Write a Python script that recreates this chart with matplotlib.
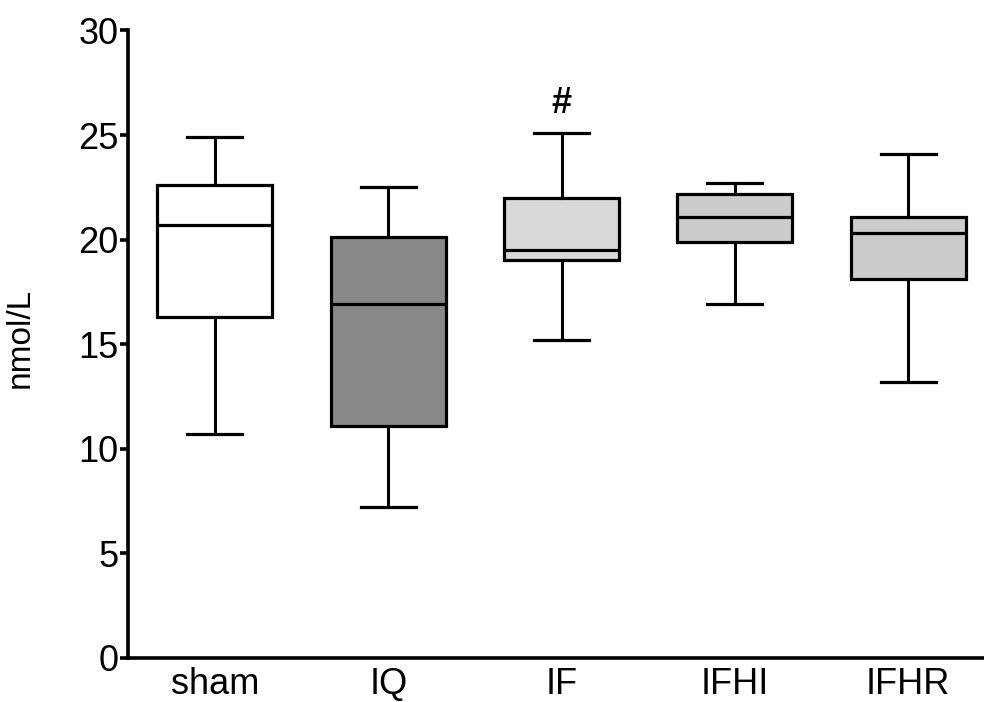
import matplotlib
matplotlib.use("Agg")
import matplotlib.pyplot as plt

plt.rcParams["font.family"] = ["Liberation Sans", "DejaVu Sans"]

# group summary values (nmol/L)
groups = ["sham", "IQ", "IF", "IFHI", "IFHR"]
whisker_low = [10.7, 7.2, 15.2, 16.9, 13.2]
q1 = [16.3, 11.1, 19.0, 19.9, 18.1]
median = [20.7, 16.9, 19.5, 21.1, 20.3]
q3 = [22.6, 20.1, 22.0, 22.2, 21.1]
whisker_high = [24.9, 22.5, 25.1, 22.7, 24.1]
fills = ["#ffffff", "#888888", "#d9d9d9", "#cccccc", "#cccccc"]

stats = []
for i, name in enumerate(groups):
    stats.append({
        "label": name,
        "whislo": whisker_low[i],
        "q1": q1[i],
        "med": median[i],
        "q3": q3[i],
        "whishi": whisker_high[i],
        "fliers": [],
    })

fig = plt.figure(figsize=(9.84, 7.02), dpi=100)
ax = fig.add_axes([0.130, 0.0631, 0.870, 0.8935])

bp = ax.bxp(stats, positions=range(len(groups)), widths=0.664,
            patch_artist=True, showfliers=False, capwidths=0.317,
            boxprops=dict(linewidth=2.3, edgecolor="black"),
            medianprops=dict(color="black", linewidth=2.3),
            whiskerprops=dict(color="black", linewidth=2.2),
            capprops=dict(color="black", linewidth=2.3))
for patch, c in zip(bp["boxes"], fills):
    patch.set_facecolor(c)

# significance mark over IF
ax.text(2, 26.5, "#", ha="center", va="center", fontsize=26, fontweight="bold")

ax.set_xlim(-0.502, 4.437)
ax.set_ylim(0, 30)
ax.set_yticks(range(0, 31, 5))
ax.set_xticks(range(len(groups)))
ax.set_xticklabels(groups)
ax.set_ylabel("nmol/L", fontsize=24, labelpad=14)
ax.yaxis.set_label_coords(-0.108, 0.51)

ax.spines["top"].set_visible(False)
ax.spines["right"].set_visible(False)
ax.spines["left"].set_linewidth(2.6)
ax.spines["bottom"].set_linewidth(2.6)
ax.tick_params(axis="y", length=6, width=2.6, labelsize=26, pad=1)
ax.tick_params(axis="x", length=0, labelsize=26, pad=7)

fig.savefig("out.png", dpi=100)
